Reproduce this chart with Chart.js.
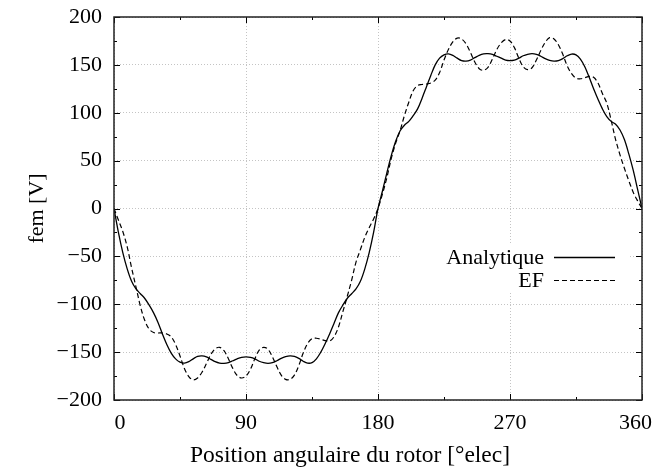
<!DOCTYPE html>
<html><head><meta charset="utf-8">
<script src="https://cdn.jsdelivr.net/npm/chart.js@4.4.1/dist/chart.umd.min.js"></script>
<style>html,body{margin:0;padding:0;background:#fff;}#wrap{width:653px;height:472px;position:relative;}</style>
</head><body><div id="wrap"><canvas id="c" width="653" height="472"></canvas></div>
<script>
// Rotor angle, electrical degrees
const angles = [
  0,3,6,9,12,15,18,21,24,27,30,33,36,39,42,45,48,51,54,57,
  60,63,66,69,72,75,78,81,84,87,90,93,96,99,102,105,108,111,114,117,
  120,123,126,129,132,135,138,141,144,147,150,153,156,159,162,165,168,171,174,177,
  180,183,186,189,192,195,198,201,204,207,210,213,216,219,222,225,228,231,234,237,
  240,243,246,249,252,255,258,261,264,267,270,273,276,279,282,285,288,291,294,297,
  300,303,306,309,312,315,318,321,324,327,330,333,336,339,342,345,348,351,354,357,
  360
];
// Analytique back-EMF [V]
const analytique = [
  0,-25,-46,-63,-76,-84,-89,-94,-101,-109,-119,-131,-142,-151,-157,-160.5,-161.5,-160,-157,-154.5,
  -154,-155,-157.5,-160,-161.5,-161.8,-161,-159,-157,-155.5,-155,-155.5,-157,-159.5,-161,-161.7,-161,-159,-156.5,-154.8,
  -154,-154.5,-156.5,-159.5,-161.5,-161,-157,-150,-141,-131,-120,-109,-101,-94,-89,-84,-76,-63,-46,-25,
  0,18,37,55,70,81,87,91,97,104,115,127,139,150,157,160.5,161.5,160,157,154.5,
  154,155,157.5,160,161.5,161.7,161,159,157,155,154.5,155,157,159.5,161,161.7,161,159,156.5,154.8,
  154,154.5,156.5,159.5,161.3,160.5,156,148,137,125,114,104,96,91,88,82,72,57,40,20,
  0
];
// EF (finite elements) back-EMF [V]
const ef = [
  0,-12,-24,-40,-62,-82,-102,-117,-126,-129.5,-130,-130,-131,-134,-142,-154,-167,-175.5,-179,-177,
  -171,-162,-152.5,-146.5,-145,-148.5,-157,-167,-174.5,-177,-175,-168,-157,-148,-145,-147,-155,-165,-174,-178.5,
  -178.5,-174,-164,-151,-141,-136,-135.5,-136.5,-138,-138.5,-134,-124,-108,-92,-75,-56,-43,-30,-20,-11,
  0,15,32,52,68,81,97,111,123,128.5,129.5,130,131,134,142,155,166,174,178,177,
  172,163,153,146,144.3,147.5,156,166,173,176.5,175,168,157,148,145,147,155,165,173.5,178.4,
  177,171,161,149,140.8,136,135.5,136.5,138,137,131,120,110,92,72,56,42,29,17,8,
  0
];
const seriesNames = ['Analytique', 'EF'];
const xTicks = [0, 90, 180, 270, 360];
const yTicks = [-200, -150, -100, -50, 0, 50, 100, 150, 200];
const xTitle = 'Position angulaire du rotor [°elec]';

const FAMILY = "'Liberation Serif', 'DejaVu Serif', serif";
const FONT = {family: FAMILY, size: 22};

const framePlugin = {
  id: 'frame',
  beforeDatasetsDraw(chart) {
    const {ctx} = chart;
    ctx.save();
    ctx.fillStyle = '#fff';
    ctx.fillRect(400, 243, 228, 50);
    ctx.restore();
  },
  afterDatasetsDraw(chart) {
    const {ctx, chartArea: a, scales} = chart;
    const xs = scales.x, ys = scales.y;
    ctx.save();
    ctx.strokeStyle = '#000';
    ctx.lineWidth = 1;
    const xt = xs.ticks.map(t => t.value);
    for (let i = 0; i < xt.length; i++) {
      const px = Math.round(xs.getPixelForValue(xt[i])) + 0.5;
      ctx.beginPath();
      ctx.moveTo(px, a.bottom); ctx.lineTo(px, a.bottom - 6);
      ctx.moveTo(px, a.top); ctx.lineTo(px, a.top + 6);
      ctx.stroke();
      if (i < xt.length - 1) {
        const pm = Math.round(xs.getPixelForValue((xt[i] + xt[i + 1]) / 2)) + 0.5;
        ctx.beginPath();
        ctx.moveTo(pm, a.bottom); ctx.lineTo(pm, a.bottom - 3);
        ctx.moveTo(pm, a.top); ctx.lineTo(pm, a.top + 3);
        ctx.stroke();
      }
    }
    const yt = ys.ticks.map(t => t.value);
    for (let i = 0; i < yt.length; i++) {
      const py = Math.round(ys.getPixelForValue(yt[i])) + 0.5;
      ctx.beginPath();
      ctx.moveTo(a.left, py); ctx.lineTo(a.left + 6, py);
      ctx.moveTo(a.right, py); ctx.lineTo(a.right - 6, py);
      ctx.stroke();
      if (i < yt.length - 1) {
        const pm = Math.round(ys.getPixelForValue((yt[i] + yt[i + 1]) / 2)) + 0.5;
        ctx.beginPath();
        ctx.moveTo(a.left, pm); ctx.lineTo(a.left + 3, pm);
        ctx.moveTo(a.right, pm); ctx.lineTo(a.right - 3, pm);
        ctx.stroke();
      }
    }
    ctx.lineWidth = 1.5;
    ctx.strokeStyle = '#222';
    ctx.strokeRect(a.left, a.top, a.right - a.left, a.bottom - a.top);

    // x tick labels (end labels pulled inside the frame, as in the original)
    ctx.font = `${FONT.size}px ${FAMILY}`;
    ctx.fillStyle = '#000';
    ctx.textAlign = 'center';
    ctx.textBaseline = 'middle';
    xt.forEach((v, i) => {
      let px = xs.getPixelForValue(v);
      if (i === 0) px += 6;
      if (i === xt.length - 1) px -= 6.5;
      ctx.fillText(String(v), px, a.bottom + 23);
    });
    // x title
    ctx.font = `23.5px ${FAMILY}`;
    ctx.textAlign = 'left';
    ctx.fillText(xTitle, 190, 456);

    // legend (text then sample, gnuplot style)
    ctx.font = `${FONT.size}px ${FAMILY}`;
    ctx.textAlign = 'right';
    const rows = [257, 280];
    chart.data.datasets.forEach((ds, i) => {
      const y = rows[i];
      ctx.fillStyle = '#000';
      ctx.fillText(ds.label, 544, y + 1);
      ctx.beginPath();
      ctx.strokeStyle = ds.borderColor;
      ctx.lineWidth = ds.borderWidth;
      ctx.setLineDash(ds.borderDash || []);
      ctx.moveTo(554, y + 0.5); ctx.lineTo(615, y + 0.5);
      ctx.stroke();
      ctx.setLineDash([]);
    });
    ctx.restore();
  }
};

new Chart(document.getElementById('c'), {
  type: 'line',
  data: {
    datasets: [
      {label: seriesNames[0], data: angles.map((a, i) => ({x: a, y: analytique[i]})),
       borderColor: '#000', borderWidth: 1.3, pointRadius: 0, tension: 0.35, fill: false},
      {label: seriesNames[1], data: angles.map((a, i) => ({x: a, y: ef[i]})),
       borderColor: '#000', borderWidth: 1.2, borderDash: [5, 3], pointRadius: 0, tension: 0.35, fill: false}
    ]
  },
  options: {
    responsive: false,
    animation: false,
    devicePixelRatio: 1,
    layout: {padding: {left: 0, right: 11, top: 17, bottom: 0}},
    plugins: {legend: {display: false}, tooltip: {enabled: false}},
    scales: {
      x: {
        type: 'linear', min: 0, max: 360,
        afterBuildTicks(s) { s.ticks = xTicks.map(v => ({value: v})); },
        ticks: {display: false},
        grid: {color: '#c4c4c4', lineWidth: 1, drawTicks: false},
        border: {display: false, dash: [1, 2]},
        afterFit(s) { s.height = 72; s.paddingLeft = 0; s.paddingRight = 0; }
      },
      y: {
        min: -200, max: 200,
        afterBuildTicks(s) { s.ticks = yTicks.map(v => ({value: v})); },
        ticks: {font: FONT, color: '#000', padding: 12, autoSkip: false,
                callback: v => (v < 0 ? '\u2212' + Math.abs(v) : String(v))},
        grid: {color: '#c4c4c4', lineWidth: 1, drawTicks: false},
        border: {display: false, dash: [1, 2]},
        title: {display: true, text: 'fem [V]', font: FONT, color: '#000', padding: {top: 24, bottom: 0}},
        afterFit(s) { s.width = 114; s.paddingTop = 0; s.paddingBottom = 0; }
      }
    }
  },
  plugins: [framePlugin]
});
</script>
</body></html>
